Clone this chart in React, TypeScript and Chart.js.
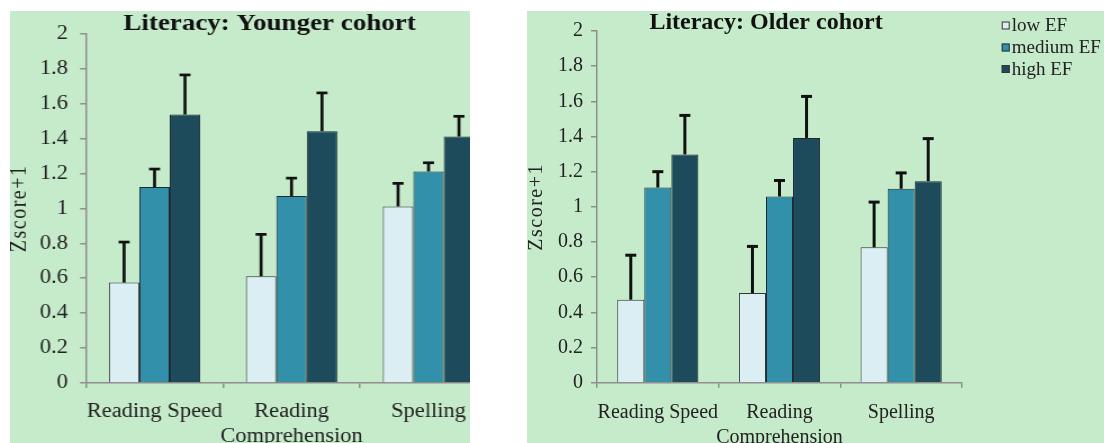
import React, { useEffect, useRef } from 'react';
import { Chart, registerables } from 'chart.js';

Chart.register(...registerables);

// ---------- data ----------
const categories: string[][] = [['Reading Speed'], ['Reading', 'Comprehension'], ['Spelling']];
const seriesLabels = ['low EF', 'medium EF', 'high EF'];
const seriesColors = ['#DAEEF3', '#3290AA', '#1E4B5B'];

const youngerLow = [0.575, 0.611, 1.011];
const youngerMedium = [1.122, 1.07, 1.211];
const youngerHigh = [1.537, 1.442, 1.411];
const youngerLowErr = [0.232, 0.24, 0.132];
const youngerMediumErr = [0.103, 0.103, 0.05];
const youngerHighErr = [0.227, 0.219, 0.116];

const olderLow = [0.472, 0.51, 0.77];
const olderMedium = [1.11, 1.059, 1.103];
const olderHigh = [1.298, 1.392, 1.146];
const olderLowErr = [0.253, 0.265, 0.257];
const olderMediumErr = [0.09, 0.091, 0.09];
const olderHighErr = [0.222, 0.236, 0.242];

const yMin = 0;
const yMax = 2;
const yStep = 0.2;
const yTitle = 'Zscore+1';
const youngerTitle = 'Literacy: Younger cohort';
const olderTitle = 'Literacy: Older cohort';

// ---------- styles ----------
const BG = '#C6EBCB';
const AXIS = '#8E8E8E';
const TEXT = '#222222';
const FONT = '"Liberation Serif", "Times New Roman", serif';

interface PanelOpts {
  title: string;
  titleX: number;
  titleY: number;
  values: number[][];
  errors: number[][];
  yAxisWidth: number;
  xAxisHeight: number;
  padTop: number;
  padRight: number;
  yTickPad: number;
  yTickLen: number;
  yTitleX: number;
  xTickLen: number;
  xTickPad: number;
  capHalf: number;
  errWidth: number;
  legend?: { x: number; rows: number[] };
}

function makeChart(canvas: HTMLCanvasElement, o: PanelOpts) {
  const overlay = {
    id: 'overlay',
    afterDatasetsDraw(chart: any) {
      const ctx = chart.ctx;
      const ys = chart.scales.y;
      ctx.save();
      ctx.strokeStyle = '#111111';
      ctx.lineWidth = o.errWidth;
      ctx.lineCap = 'butt';
      chart.data.datasets.forEach((ds: any, i: number) => {
        const meta = chart.getDatasetMeta(i);
        meta.data.forEach((bar: any, j: number) => {
          const v = ds.data[j];
          const e = o.errors[i][j];
          const y0 = ys.getPixelForValue(v);
          const y1 = ys.getPixelForValue(v + e);
          ctx.beginPath();
          ctx.moveTo(bar.x, y0);
          ctx.lineTo(bar.x, y1);
          ctx.stroke();
          ctx.beginPath();
          ctx.moveTo(bar.x - o.capHalf, y1);
          ctx.lineTo(bar.x + o.capHalf, y1);
          ctx.stroke();
        });
      });
      ctx.restore();
    },
    afterDraw(chart: any) {
      const ctx = chart.ctx;
      const ys = chart.scales.y;
      ctx.save();
      ctx.fillStyle = '#111111';
      ctx.font = `bold 24px ${FONT}`;
      ctx.textAlign = 'center';
      ctx.textBaseline = 'alphabetic';
      ctx.fillText(o.title, o.titleX, o.titleY);

      // y axis title, letter-spaced, rotated
      ctx.save();
      ctx.translate(o.yTitleX, (ys.top + ys.bottom) / 2);
      ctx.rotate(-Math.PI / 2);
      ctx.font = `20px ${FONT}`;
      (ctx as any).letterSpacing = '1.5px';
      ctx.fillStyle = TEXT;
      ctx.textAlign = 'center';
      ctx.textBaseline = 'middle';
      ctx.fillText(yTitle, 0, 0);
      ctx.restore();

      if (o.legend) {
        ctx.font = `19px ${FONT}`;
        ctx.textAlign = 'left';
        ctx.textBaseline = 'middle';
        chart.data.datasets.forEach((ds: any, i: number) => {
          const ry = o.legend!.rows[i];
          ctx.fillStyle = ds.backgroundColor;
          ctx.fillRect(o.legend!.x, ry - 4, 8, 8);
          ctx.strokeStyle = '#333333';
          ctx.lineWidth = 1;
          ctx.strokeRect(o.legend!.x + 0.5, ry - 3.5, 7, 7);
          ctx.fillStyle = TEXT;
          ctx.fillText(ds.label, o.legend!.x + 10, ry + 1);
        });
      }
      ctx.restore();
    },
  };

  return new Chart(canvas, {
    type: 'bar',
    data: {
      labels: categories,
      datasets: seriesLabels.map((label, i) => ({
        label,
        data: o.values[i],
        backgroundColor: seriesColors[i],
        borderColor: i === 0 ? '#333333' : '#1A2A30',
        borderWidth: 1,
        categoryPercentage: 0.667,
        barPercentage: 1,
      })),
    },
    options: {
      responsive: false,
      maintainAspectRatio: false,
      animation: false,
      layout: { padding: { top: o.padTop, right: o.padRight, left: 0, bottom: 0 } },
      plugins: {
        legend: { display: false },
        title: { display: false },
        tooltip: { enabled: false },
      },
      scales: {
        x: {
          type: 'category',
          offset: true,
          grid: {
            display: true,
            drawOnChartArea: false,
            drawTicks: true,
            tickLength: o.xTickLen,
            color: AXIS,
            lineWidth: 1.5,
            offset: true,
          },
          border: { display: true, color: AXIS, width: 1.5 },
          ticks: {
            font: { family: FONT, size: 20, lineHeight: 1.25 },
            color: TEXT,
            padding: o.xTickPad,
            maxRotation: 0,
            minRotation: 0,
            autoSkip: false,
          },
          afterFit: (s: any) => {
            s.height = o.xAxisHeight;
          },
        },
        y: {
          min: yMin,
          max: yMax,
          grid: {
            display: true,
            drawOnChartArea: false,
            drawTicks: true,
            tickLength: o.yTickLen,
            color: AXIS,
            lineWidth: 1.5,
          },
          border: { display: true, color: AXIS, width: 1.5 },
          ticks: {
            stepSize: yStep,
            font: { family: FONT, size: 20 },
            color: TEXT,
            padding: o.yTickPad,
            callback: (v: any) => String(Number(Number(v).toFixed(1))),
          },
          title: { display: false },
          afterFit: (s: any) => {
            s.width = o.yAxisWidth;
          },
        },
      },
    },
    plugins: [overlay],
  });
}

const STRETCH = 1.125;

function Panel(props: {
  left: number;
  top: number;
  width: number;
  height: number;
  canvasWidth: number;
  stretch: number;
  opts: PanelOpts;
}) {
  const ref = useRef<HTMLCanvasElement | null>(null);
  useEffect(() => {
    if (!ref.current) return;
    const chart = makeChart(ref.current, props.opts);
    return () => chart.destroy();
  }, []);
  return (
    <div
      style={{
        position: 'absolute',
        left: props.left,
        top: props.top,
        width: props.width,
        height: props.height,
        overflow: 'hidden',
        background: BG,
      }}
    >
      <div
        style={{
          position: 'absolute',
          left: 0,
          top: 0,
          transform: `scaleX(${props.stretch})`,
          transformOrigin: '0 0',
        }}
      >
        <canvas
          ref={ref}
          width={props.canvasWidth}
          height={props.height}
          style={{ display: 'block', width: props.canvasWidth, height: props.height }}
        />
      </div>
    </div>
  );
}

export default function App() {
  return (
    <div style={{ position: 'absolute', left: 0, top: 0, width: 1104, height: 443, background: '#ffffff' }}>
      <Panel
        left={10}
        top={11}
        width={460}
        height={432}
        canvasWidth={445}
        stretch={STRETCH}
        opts={{
          title: youngerTitle,
          titleX: 230.7,
          titleY: 19,
          values: [youngerLow, youngerMedium, youngerHigh],
          errors: [youngerLowErr, youngerMediumErr, youngerHighErr],
          yAxisWidth: 67.6,
          xAxisHeight: 60,
          padTop: 22,
          padRight: 12.1,
          yTickPad: 10.7,
          yTickLen: 5.3,
          yTitleX: 8.4,
          xTickLen: 5,
          xTickPad: 11,
          capHalf: 4.9,
          errWidth: 2.7,
        }}
      />
      <Panel
        left={527}
        top={11}
        width={577}
        height={432}
        canvasWidth={577}
        stretch={1}
        opts={{
          title: olderTitle,
          titleX: 239,
          titleY: 18.3,
          values: [olderLow, olderMedium, olderHigh],
          errors: [olderLowErr, olderMediumErr, olderHighErr],
          yAxisWidth: 70,
          xAxisHeight: 60.3,
          padTop: 17.3,
          padRight: 142,
          yTickPad: 8,
          yTickLen: 6,
          yTitleX: 9.3,
          xTickLen: 5,
          xTickPad: 12.5,
          capHalf: 5.5,
          errWidth: 3,
          legend: { x: 474.7, rows: [14.5, 36.5, 58] },
        }}
      />
    </div>
  );
}
